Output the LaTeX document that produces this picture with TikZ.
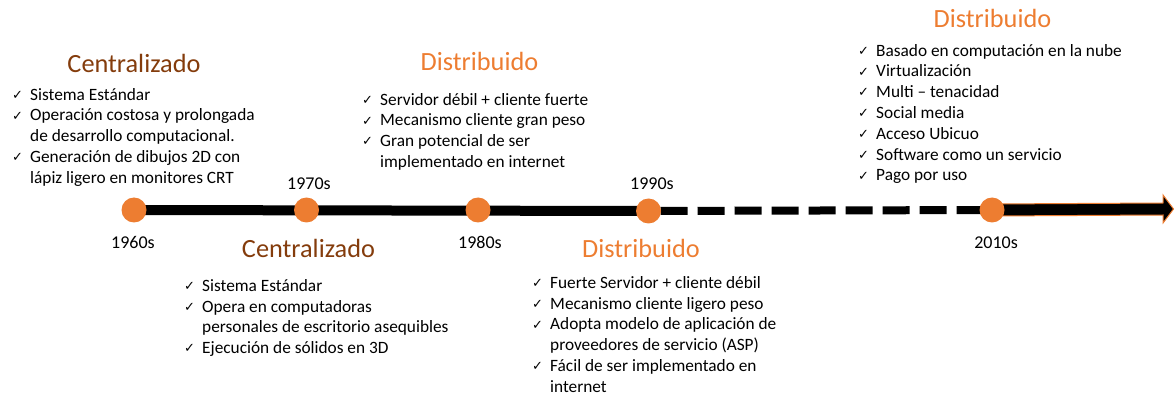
\documentclass[tikz,border=0pt]{standalone}
\usepackage{fontspec}
\setmainfont{Carlito}
\newfontfamily\ckfont{DejaVu Sans}
\usetikzlibrary{calc,backgrounds}
\definecolor{tlorange}{RGB}{237,125,49}
\definecolor{tlbrown}{RGB}{132,60,12}
\newcommand{\ck}{\makebox[18pt][l]{\raisebox{0.8pt}{\fontsize{13}{14}\selectfont\ckfont ✓}}}
\newcommand{\ind}{\hspace*{18pt}}
\newcommand{\fl}{\rule{0pt}{14pt}}
\tikzset{
  blist/.style={anchor=north west, inner sep=0pt, align=left, text=black,
    font=\fontsize{17.3}{20.8}\selectfont},
  headc/.style={anchor=base, inner sep=0pt, text=tlbrown, font=\fontsize{26.3}{30}\selectfont},
  headd/.style={anchor=base, inner sep=0pt, text=tlorange, font=\fontsize{26.3}{30}\selectfont},
  year/.style={anchor=base, inner sep=0pt, text=black, font=\fontsize{18}{20}\selectfont},
  dot/.style={circle, fill=tlorange, minimum size=25pt, inner sep=0pt},
}
\begin{document}
\begin{tikzpicture}[x=1pt,y=-1pt]
\useasboundingbox (0,0) rectangle (1174,395);
% timeline points
\node[dot] (c1) at (134,210) {};
\node[dot] (c2) at (306.5,210) {};
\node[dot] (c3) at (478,210) {};
\node[dot] (c4) at (648.5,211) {};
\node[dot] (c5) at (992,210) {};
\coordinate (tip) at (1173.5,209);
\begin{pgfonlayer}{background}
\draw[line width=10pt] (c1.center) -- (c4.center);
\draw[line width=8pt, dash pattern=on 27pt off 10pt, dash phase=25pt] (c4.center) -- (c5.center);
\filldraw[fill=black, draw=tlorange, line width=1pt]
  ($(c5.center)+(0,-6)$) -- ($(tip)+(-10.5,-6)$) -- ($(tip)+(-10.5,-14)$) -- (tip)
  -- ($(tip)+(-10.5,14)$) -- ($(tip)+(-10.5,6)$) -- ($(c5.center)+(0,6)$) -- cycle;
\end{pgfonlayer}
% years
\node[year] (y1) at (133,248) {1960s};
\node[year] (y2) at (309,190) {1970s};
\node[year] (y3) at (480,248) {1980s};
\node[year] (y4) at (652,190) {1990s};
\node[year] (y5) at (996,248) {2010s};
% headings
\node[headc] (h1) at (134,73) {Centralizado};
\node[headc] (h2) at (308.5,258) {Centralizado};
\node[headd] (h3) at (479.5,71) {Distribuido};
\node[headd] (h4) at (641,258) {Distribuido};
\node[headd] (h5) at (992.5,28) {Distribuido};
% lists
\node[blist] (b1) at (12,86) {\fl\ck Sistema Estándar\\
\ck Operación costosa y prolongada\\
\ind de desarrollo computacional.\\
\ck Generación de dibujos 2D con\\
\ind lápiz ligero en monitores CRT};
\node[blist] (b2) at (184,277) {\fl\ck Sistema Estándar\\
\ck Opera en computadoras\\
\ind personales de escritorio asequibles\\
\ck Ejecución de sólidos en 3D};
\node[blist] (b3) at (362,91) {\fl\ck Servidor débil + cliente fuerte\\
\ck Mecanismo cliente gran peso\\
\ck Gran potencial de ser\\
\ind implementado en internet};
\node[blist] (b4) at (532,274) {\fl\ck Fuerte Servidor + cliente débil\\
\ck Mecanismo cliente ligero peso\\
\ck Adopta modelo de aplicación de\\
\ind proveedores de servicio (ASP)\\
\ck Fácil de ser implementado en\\
\ind internet};
\node[blist] (b5) at (858,42) {\fl\ck Basado en computación en la nube\\
\ck Virtualización\\
\ck Multi – tenacidad\\
\ck Social media\\
\ck Acceso Ubicuo\\
\ck Software como un servicio\\
\ck Pago por uso};
\end{tikzpicture}
\end{document}
